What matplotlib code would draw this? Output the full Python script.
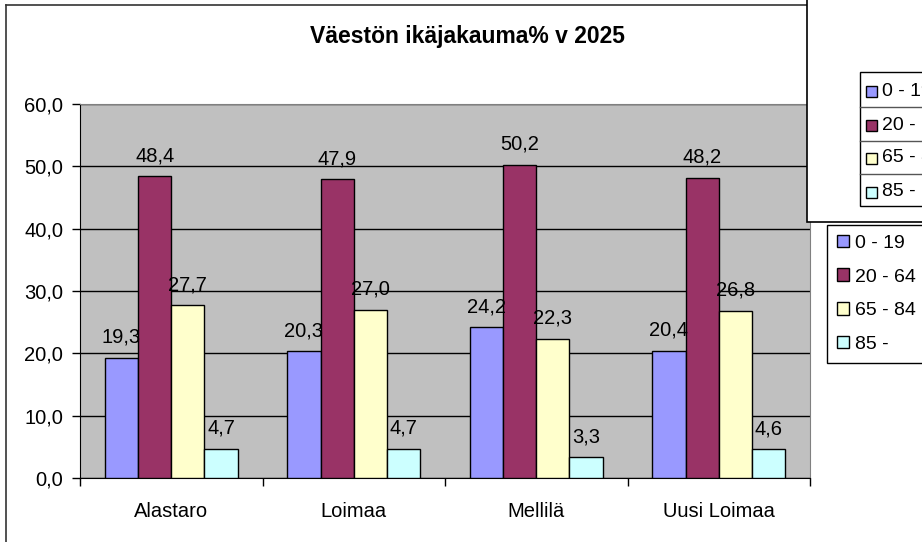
import matplotlib.pyplot as plt
from matplotlib.patches import Rectangle, Patch
from matplotlib.lines import Line2D
from matplotlib.ticker import FuncFormatter
import numpy as np

plt.rcParams['font.family'] = ['Liberation Sans', 'DejaVu Sans']

# data
municipalities = ['Alastaro', 'Loimaa', 'Mellilä', 'Uusi Loimaa']
age_groups = ['0 - 19', '20 - 64', '65 - 84', '85 -']
shares = {
    '0 - 19': [19.3, 20.3, 24.2, 20.4],
    '20 - 64': [48.4, 47.9, 50.2, 48.2],
    '65 - 84': [27.7, 27.0, 22.3, 26.8],
    '85 -': [4.7, 4.7, 3.3, 4.6],
}
colors = ['#9999FF', '#993366', '#FFFFCC', '#CCFFFF']

W, H = 922, 542
fig = plt.figure(figsize=(W / 100, H / 100), dpi=100)


def fx(px):
    return px / W


def fy(py):
    return 1 - py / H


# plot area in pixels: left 80, right 810, top 104, bottom 478
ax = fig.add_axes([fx(80), fy(478), fx(730), 374 / H])
ax.set_facecolor('#C0C0C0')

x = np.arange(len(municipalities))
w = 1 / 5.5
handles = []
for i, grp in enumerate(age_groups):
    bars = ax.bar(x - 1.5 * w + i * w, shares[grp], w, color=colors[i],
                  edgecolor='black', linewidth=1, zorder=3)
    ax.bar_label(bars, labels=[f'{v:.1f}'.replace('.', ',') for v in shares[grp]],
                 padding=8, fontsize=14.5, zorder=4)
    handles.append(Patch(facecolor=colors[i], edgecolor='black', linewidth=1, label=grp))

ax.set_xlim(-0.5, len(municipalities) - 0.5)
ax.set_ylim(0, 60)
ax.set_yticks(np.arange(0, 61, 10))
ax.yaxis.set_major_formatter(FuncFormatter(lambda v, p: f'{v:.1f}'.replace('.', ',')))
ax.set_xticks(x)
ax.set_xticklabels(municipalities)
ax.set_xticks(np.arange(-0.5, len(municipalities), 1), minor=True)
ax.tick_params(axis='x', which='major', length=0, pad=17, labelsize=14.5)
ax.tick_params(axis='x', which='minor', length=6, width=1, color='black')
ax.tick_params(axis='y', length=6, width=1, pad=6, labelsize=14.5, color='black')
ax.grid(axis='y', color='black', linewidth=1)
ax.set_axisbelow(True)
for s in ['top', 'right']:
    ax.spines[s].set_color('#808080')
for s in ['left', 'bottom']:
    ax.spines[s].set_color('black')

fig.text(fx(467), fy(37), 'Väestön ikäjakauma% v 2025', ha='center', va='center',
         fontsize=16.5, fontweight='bold')

# outer chart frame (top and left visible)
fig.add_artist(Line2D([fx(6), fx(807)], [fy(5), fy(5)], color='#333333', linewidth=1.2))
fig.add_artist(Line2D([fx(6), fx(6)], [fy(5), fy(542)], color='#333333', linewidth=1.2))

leg = ax.legend(handles=handles, loc='upper left', bbox_to_anchor=(fx(827), fy(225)),
                bbox_transform=fig.transFigure, borderaxespad=0, fontsize=14,
                frameon=True, fancybox=False, edgecolor='black', framealpha=1,
                handlelength=0.62, handleheight=0.62, handletextpad=0.3,
                labelspacing=0.85, borderpad=0.5)
leg.get_frame().set_linewidth(1)

# overlapping box of another chart in the top right corner
fig.add_artist(Rectangle((fx(807), fy(222)), fx(130), 240 / H, transform=fig.transFigure,
                         facecolor='white', edgecolor='black', linewidth=1.2, zorder=10))
fig.add_artist(Rectangle((fx(860), fy(206)), fx(80), 134 / H, transform=fig.transFigure,
                         facecolor='white', edgecolor='black', linewidth=1, zorder=11))
for yl in [107, 141, 174]:
    fig.add_artist(Line2D([fx(860), fx(922)], [fy(yl), fy(yl)], color='#555555',
                          linewidth=1, zorder=12))
for i, yc in enumerate([91, 125, 158, 192]):
    fig.add_artist(Rectangle((fx(866), fy(yc + 6)), fx(11), 11 / H, transform=fig.transFigure,
                             facecolor=colors[i], edgecolor='black', linewidth=1, zorder=12))
    fig.text(fx(882), fy(yc), age_groups[i], fontsize=14, va='center', ha='left', zorder=12)

fig.savefig('out.png', dpi=100)
